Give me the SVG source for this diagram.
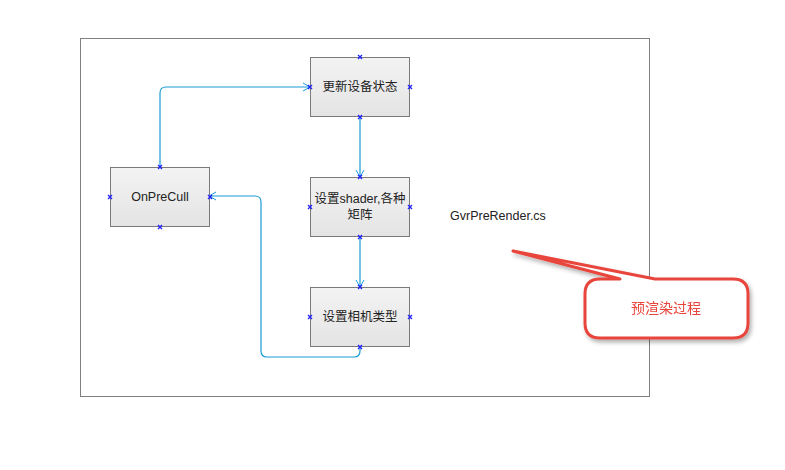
<svg xmlns="http://www.w3.org/2000/svg" width="785" height="470" viewBox="0 0 785 470">
<defs>
<linearGradient id="g" x1="0" y1="0" x2="0" y2="1">
<stop offset="0" stop-color="#f3f3f3"/>
<stop offset="1" stop-color="#e4e4e4"/>
</linearGradient>
<marker id="arr" markerWidth="10" markerHeight="10" refX="8" refY="5" orient="auto" markerUnits="userSpaceOnUse">
<path d="M1,1 L8,5 L1,9" fill="none" stroke="#1a9bd7" stroke-width="1"/>
</marker>
<filter id="sh" x="-20%" y="-20%" width="140%" height="150%">
<feDropShadow dx="2" dy="3" stdDeviation="2" flood-color="#000" flood-opacity="0.3"/>
</filter>
<g id="xm"><path d="M-2,-2 L2,2 M-2,2 L2,-2" stroke="#2020ff" stroke-width="1.3"/></g>
</defs>
<style>
.box{fill:url(#g);stroke:#7a7a7a;stroke-width:1}
.t{font-family:"Liberation Sans","Noto Sans CJK SC",sans-serif;font-size:12.5px;fill:#222;text-anchor:middle}
.c{fill:none;stroke:#1a9bd7;stroke-width:1.2}
</style>
<rect x="80.5" y="38.5" width="569" height="358" fill="#fff" stroke="#808080" stroke-width="1"/>
<g id="connectors">
<path class="c" d="M160,167 V93 Q160,87 166,87 H310" marker-end="url(#arr)"/>
<path class="c" d="M360,116 V177" marker-end="url(#arr)"/>
<path class="c" d="M360,236 V287" marker-end="url(#arr)"/>
<path class="c" d="M360,346 V351 Q360,357 354,357 H267 Q261,357 261,351 V202 Q261,196 255,196 H209" marker-end="url(#arr)"/>
</g>
<g id="n1">
<rect class="box" x="310.5" y="57.5" width="99" height="59"/>
<text class="t" x="360" y="91">更新设备状态</text>
</g>
<g id="n2">
<rect class="box" x="310.5" y="177.5" width="99" height="59"/>
<text class="t" x="360" y="203">设置shader,各种</text>
<text class="t" x="360" y="219">矩阵</text>
</g>
<g id="n3">
<rect class="box" x="310.5" y="287.5" width="99" height="59"/>
<text class="t" x="360" y="321">设置相机类型</text>
</g>
<g id="n4">
<rect class="box" x="110.5" y="167.5" width="99" height="59"/>
<text class="t" x="160" y="201">OnPreCull</text>
</g>
<g id="markers">
<use href="#xm" x="360" y="57"/><use href="#xm" x="310" y="87"/><use href="#xm" x="410" y="87"/><use href="#xm" x="360" y="117"/>
<use href="#xm" x="360" y="177"/><use href="#xm" x="310" y="207"/><use href="#xm" x="410" y="207"/><use href="#xm" x="360" y="237"/>
<use href="#xm" x="360" y="287"/><use href="#xm" x="310" y="317"/><use href="#xm" x="410" y="317"/><use href="#xm" x="360" y="347"/>
<use href="#xm" x="160" y="167"/><use href="#xm" x="110" y="197"/><use href="#xm" x="210" y="197"/><use href="#xm" x="160" y="227"/>
</g>
<g id="label">
<text x="450" y="220" font-family="Liberation Sans, sans-serif" font-size="12.5" fill="#222">GvrPreRender.cs</text>
</g>
<g id="callout" filter="url(#sh)">
<path d="M513,251 L620,279 L600,279 Q585,279 585,294 V323 Q585,338 600,338 H733 Q748,338 748,323 V294 Q748,279 733,279 H655 Z" fill="#fff" stroke="#e8453c" stroke-width="3" stroke-linejoin="round"/>
<text x="666" y="313" font-family="Liberation Sans, 'Noto Sans CJK SC', sans-serif" font-size="14" fill="#e8453c" text-anchor="middle">预渲染过程</text>
</g>
</svg>
